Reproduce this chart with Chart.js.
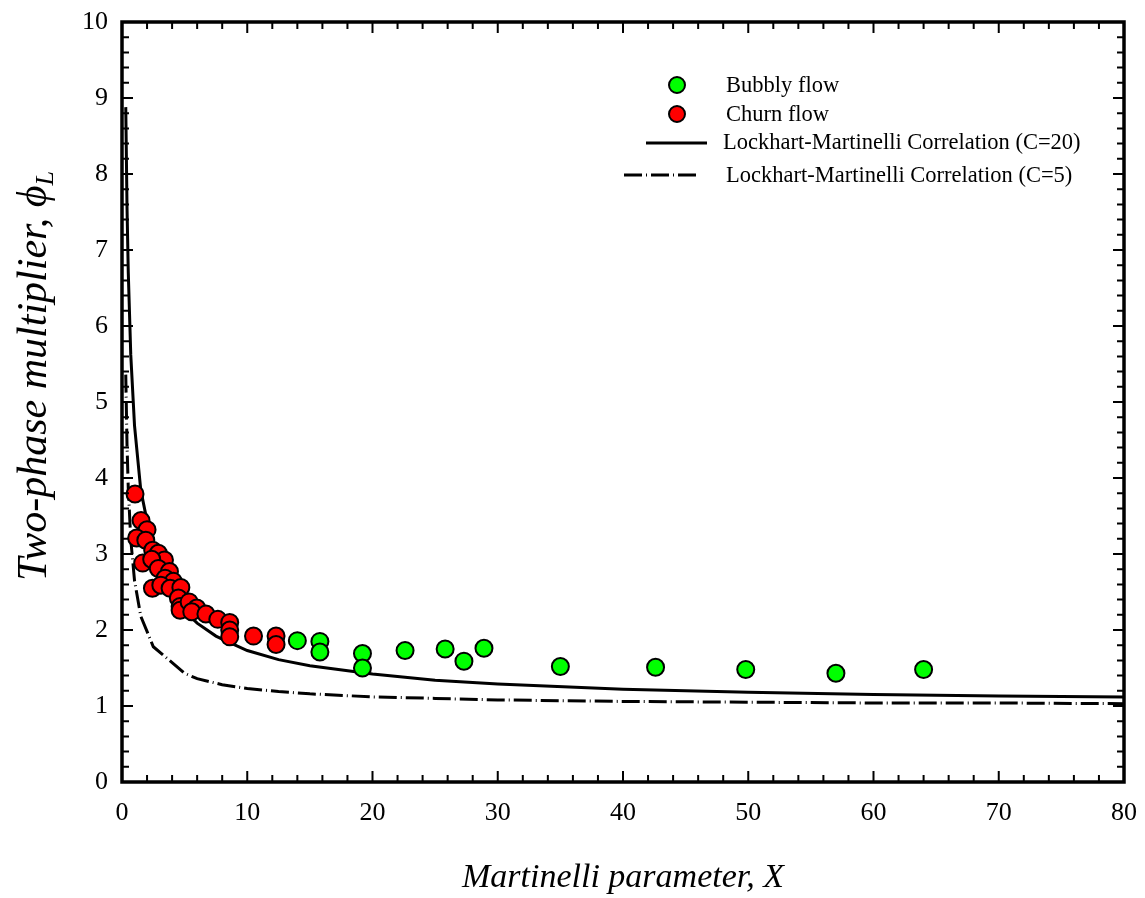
<!DOCTYPE html>
<html>
<head>
<meta charset="utf-8">
<script src="https://cdn.jsdelivr.net/npm/chart.js@4.4.1/dist/chart.umd.min.js"></script>
<style>
  html, body { margin: 0; padding: 0; background: #fff; }
  canvas { display: block; }
</style>
</head>
<body>
<canvas id="chart" width="1145" height="898"></canvas>
<script>
// Bubbly flow points (green)
const bubblyX = [14.0, 15.8, 15.8, 19.2, 19.2, 22.6, 25.8, 27.3, 28.9, 35.0, 42.6, 49.8, 57.0, 64.0]
const bubblyY = [1.86, 1.85, 1.71, 1.69, 1.50, 1.73, 1.75, 1.59, 1.76, 1.52, 1.51, 1.48, 1.43, 1.48]

// Churn flow points (red)
const churnX = [1.04, 1.52, 2.00, 1.17, 1.90, 2.45, 2.90, 3.39, 1.65, 2.37, 2.90, 3.79, 3.44, 4.10,
                2.43, 3.10, 3.84, 4.70, 4.50, 4.64, 4.64, 5.36, 5.97, 5.57, 6.70, 7.65, 8.60, 8.60,
                8.60, 10.5, 12.3, 12.3]
const churnY = [3.79, 3.44, 3.32, 3.21, 3.18, 3.05, 3.01, 2.92, 2.88, 2.93, 2.81, 2.77, 2.68, 2.64,
                2.55, 2.59, 2.55, 2.56, 2.42, 2.31, 2.26, 2.37, 2.29, 2.24, 2.21, 2.14, 2.10, 2.00,
                1.91, 1.92, 1.92, 1.81]

// Lockhart-Martinelli curves
const curveX = [0.3, 0.4, 0.5, 0.7, 1, 1.5, 2.5, 5, 6, 7.5, 8, 10, 12.5, 15, 20, 25, 30, 40, 50, 60, 70, 80]
const lmC20  = [8.88, 7.57, 6.71, 5.62, 4.69, 3.84, 3.03, 2.25, 2.09, 1.92, 1.88, 1.73, 1.61, 1.53, 1.42, 1.34, 1.29, 1.22, 1.18, 1.15, 1.13, 1.12]
const lmC5   = [5.36, 4.44, 3.87, 3.19, 2.65, 2.18, 1.78, 1.43, 1.36, 1.30, 1.28, 1.23, 1.19, 1.16, 1.12, 1.10, 1.08, 1.06, 1.05, 1.04, 1.04, 1.03]

const pts = (xs, ys) => xs.map((x, i) => ({ x, y: ys[i] }))
const SERIF = "'Liberation Serif', 'Times New Roman', serif"

// frame, inward ticks on all four sides, axis titles and the in-plot legend
const decorations = {
  id: "decorations",
  afterDatasetsDraw(chart) {
    const { ctx, chartArea: a, scales: { x, y } } = chart
    ctx.save()
    ctx.strokeStyle = "#000"
    ctx.lineWidth = 2
    ctx.beginPath()
    for (let v = 0; v <= 80; v += 2) {
      const px = x.getPixelForValue(v)
      const len = v % 10 === 0 ? 11 : 7
      ctx.moveTo(px, a.bottom); ctx.lineTo(px, a.bottom - len)
      ctx.moveTo(px, a.top);    ctx.lineTo(px, a.top + len)
    }
    for (let i = 0; i <= 50; i++) {
      const py = y.getPixelForValue(i / 5)
      const len = i % 5 === 0 ? 11 : 7
      ctx.moveTo(a.left, py);  ctx.lineTo(a.left + len, py)
      ctx.moveTo(a.right, py); ctx.lineTo(a.right - len, py)
    }
    ctx.stroke()
    ctx.lineWidth = 3.5
    ctx.strokeRect(a.left, a.top, a.right - a.left, a.bottom - a.top)
    ctx.restore()
  },
  afterDraw(chart) {
    const { ctx, chartArea: a } = chart
    ctx.save()
    ctx.fillStyle = "#000"

    // x title
    ctx.font = `italic 34px ${SERIF}`
    ctx.textAlign = "center"
    ctx.textBaseline = "middle"
    ctx.fillText("Martinelli parameter, X", (a.left + a.right) / 2, 878)

    // y title with subscript
    ctx.translate(33, 376)
    ctx.rotate(-Math.PI / 2)
    const main = "Two-phase multiplier, \u03d5"
    ctx.font = `italic 42px ${SERIF}`
    const wMain = ctx.measureText(main).width
    ctx.font = `italic 26px ${SERIF}`
    const wSub = ctx.measureText("L").width
    const x0 = -(wMain + wSub) / 2
    ctx.textAlign = "left"
    ctx.textBaseline = "alphabetic"
    ctx.font = `italic 42px ${SERIF}`
    ctx.fillText(main, x0, 13)
    ctx.font = `italic 26px ${SERIF}`
    ctx.fillText("L", x0 + wMain, 20)
    ctx.setTransform(1, 0, 0, 1, 0, 0)

    // legend
    ctx.font = `22.5px ${SERIF}`
    ctx.textBaseline = "middle"
    ctx.textAlign = "left"
    const ds = chart.data.datasets
    const marker = (d, cx, cy) => {
      ctx.beginPath()
      ctx.arc(cx, cy, 8, 0, Math.PI * 2)
      ctx.fillStyle = d.backgroundColor
      ctx.fill()
      ctx.lineWidth = 2
      ctx.strokeStyle = "#000"
      ctx.stroke()
    }
    const line = (d, x1, x2, cy) => {
      ctx.beginPath()
      ctx.setLineDash(d.borderDash || [])
      ctx.lineWidth = d.borderWidth
      ctx.strokeStyle = d.borderColor
      ctx.moveTo(x1, cy); ctx.lineTo(x2, cy)
      ctx.stroke()
      ctx.setLineDash([])
    }
    marker(ds[0], 677, 85)
    marker(ds[1], 677, 114)
    line(ds[2], 646, 707, 143)
    line(ds[3], 624, 697, 175)
    ctx.fillStyle = "#000"
    ctx.fillText(ds[0].label, 726, 86)
    ctx.fillText(ds[1].label, 726, 115)
    ctx.fillText(ds[2].label, 723, 143)
    ctx.fillText(ds[3].label, 726, 176)
    ctx.restore()
  }
}

const whiteBg = {
  id: "whiteBg",
  beforeDraw(chart) {
    const { ctx, width, height } = chart
    ctx.save()
    ctx.fillStyle = "#fff"
    ctx.fillRect(0, 0, width, height)
    ctx.restore()
  }
}

// pin the plot box: fixed axis sizes, no label overflow padding
const fitX = (s) => { s.height = 116; s.paddingLeft = 0; s.paddingRight = 0 }
const fitY = (s) => { s.width = 122; s.paddingTop = 0; s.paddingBottom = 0 }

new Chart(document.getElementById("chart"), {
  type: "scatter",
  data: {
    datasets: [
      {
        label: "Bubbly flow", data: pts(bubblyX, bubblyY), order: 0,
        backgroundColor: "#00ff00", borderColor: "#000", borderWidth: 2, pointRadius: 8.5
      },
      {
        label: "Churn flow", data: pts(churnX, churnY), order: 0,
        backgroundColor: "#ff0000", borderColor: "#000", borderWidth: 2, pointRadius: 8.5
      },
      {
        label: "Lockhart-Martinelli Correlation (C=20)", data: pts(curveX, lmC20), order: 2,
        showLine: true, pointRadius: 0, borderColor: "#000", borderWidth: 3, fill: false
      },
      {
        label: "Lockhart-Martinelli Correlation (C=5)", data: pts(curveX, lmC5), order: 2,
        showLine: true, pointRadius: 0, borderColor: "#000", borderWidth: 3, fill: false,
        borderDash: [18, 4, 1, 4]
      }
    ]
  },
  options: {
    responsive: false,
    animation: false,
    layout: { padding: { top: 22, right: 21, left: 0, bottom: 0 } },
    plugins: { legend: { display: false }, tooltip: { enabled: false } },
    scales: {
      x: {
        type: "linear", min: 0, max: 80,
        afterFit: fitX,
        grid: { display: false, drawTicks: false },
        border: { display: false },
        ticks: { stepSize: 10, color: "#000", padding: 16, font: { family: SERIF, size: 26 } }
      },
      y: {
        type: "linear", min: 0, max: 10,
        afterFit: fitY,
        grid: { display: false, drawTicks: false },
        border: { display: false },
        ticks: { stepSize: 1, color: "#000", padding: 14, font: { family: SERIF, size: 26 } }
      }
    }
  },
  plugins: [whiteBg, decorations]
})
</script>
</body>
</html>
